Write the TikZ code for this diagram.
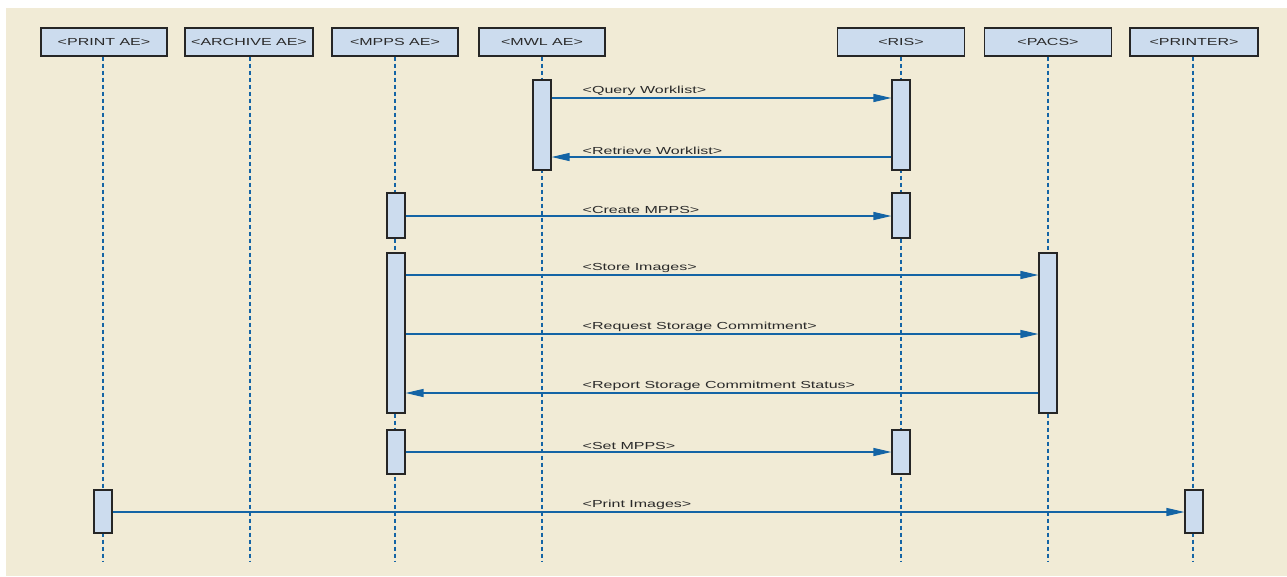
\documentclass[tikz,border=0pt]{standalone}
\usepackage{fontspec}
\setmainfont{Liberation Sans}
\newfontfamily\widesans[FakeStretch=1.57]{Liberation Sans}
\usetikzlibrary{arrows.meta}
\definecolor{bg}{HTML}{F1EBD6}
\definecolor{boxfill}{HTML}{CCDCEE}
\definecolor{lineblue}{HTML}{1464A5}
\definecolor{txt}{HTML}{2A2A2A}
\tikzset{
  hdr/.style={draw=black!85, line width=1.1pt, fill=boxfill, minimum width=127pt, minimum height=28pt, inner sep=0pt, text=txt, font=\widesans\fontsize{10.2}{12}\selectfont},
  bar/.style={draw=black!85, line width=1.1pt, fill=boxfill, minimum width=18pt, inner sep=0pt},
  life/.style={draw=lineblue, line width=1.3pt, dash pattern=on 4pt off 3pt},
  msg/.style={draw=lineblue, line width=1.2pt, -{Triangle[length=18pt,width=8pt]}},
  lbl/.style={anchor=south west, inner sep=0.5pt, text=txt, font=\widesans\fontsize{10.2}{12}\selectfont}
}
\begin{document}
\begin{tikzpicture}[x=1pt,y=-1pt]
\useasboundingbox (0,0) rectangle (1287,576);
\fill[white] (0,0) rectangle (1287,576);
\fill[bg] (6,8) rectangle (1287,576);
% headers
\node[hdr, minimum width=126pt] (print) at (104,42) {<PRINT AE>};
\node[hdr, minimum width=128pt] (archive) at (249,42) {<ARCHIVE AE>};
\node[hdr, minimum width=126pt] (mpps) at (395,42) {<MPPS AE>};
\node[hdr, minimum width=126pt] (mwl) at (542,42) {<MWL AE>};
\node[hdr, minimum width=127pt] (ris) at (901,42) {<RIS>};
\node[hdr, minimum width=127pt] (pacs) at (1048,42) {<PACS>};
\node[hdr, minimum width=128pt] (printer) at (1194,42) {<PRINTER>};
% lifeline ends
\coordinate (eprint) at (103,562);
\coordinate (earchive) at (250,562);
\coordinate (empps) at (395,562);
\coordinate (emwl) at (542,562);
\coordinate (eris) at (901,562);
\coordinate (epacs) at (1048,562);
\coordinate (eprinter) at (1193,562);
\draw[life] (print.south -| eprint) -- (eprint);
\draw[life] (archive.south -| earchive) -- (earchive);
\draw[life] (mpps.south -| empps) -- (empps);
\draw[life] (mwl.south -| emwl) -- (emwl);
\draw[life] (ris.south -| eris) -- (eris);
\draw[life] (pacs.south -| epacs) -- (epacs);
\draw[life] (printer.south -| eprinter) -- (eprinter);
% activation bars
\node[bar, minimum height=90pt] (mwl1) at (542,125) {};
\node[bar, minimum height=90pt] (ris1) at (901,125) {};
\node[bar, minimum height=45pt] (mpps1) at (396,215.5) {};
\node[bar, minimum height=45pt] (ris2) at (901,215.5) {};
\node[bar, minimum height=160pt] (mpps2) at (396,333) {};
\node[bar, minimum height=160pt] (pacs1) at (1048,333) {};
\node[bar, minimum height=44pt] (mpps3) at (396,452) {};
\node[bar, minimum height=44pt] (ris3) at (901,452) {};
\node[bar, minimum height=43pt] (print1) at (103,511.5) {};
\node[bar, minimum height=43pt] (printer1) at (1194,511.5) {};
% messages
\draw[msg] (mwl1.east |- 0,98) -- (ris1.west |- 0,98);
\node[lbl] (l1) at (582,96) {<Query Worklist>};
\draw[msg] (ris1.west |- 0,157) -- (mwl1.east |- 0,157);
\node[lbl] (l2) at (582,155) {<Retrieve Worklist>};
\draw[msg] (mpps1.east |- 0,216) -- (ris2.west |- 0,216);
\node[lbl] (l3) at (582,214) {<Create MPPS>};
\draw[msg] (mpps2.east |- 0,275) -- (pacs1.west |- 0,275);
\node[lbl] (l4) at (582,273) {<Store Images>};
\draw[msg] (mpps2.east |- 0,334) -- (pacs1.west |- 0,334);
\node[lbl] (l5) at (582,332) {<Request Storage Commitment>};
\draw[msg] (pacs1.west |- 0,393) -- (mpps2.east |- 0,393);
\node[lbl] (l6) at (582,391) {<Report Storage Commitment Status>};
\draw[msg] (mpps3.east |- 0,452) -- (ris3.west |- 0,452);
\node[lbl] (l7) at (582,450) {<Set MPPS>};
\draw[msg] (print1.east |- 0,512) -- (printer1.west |- 0,512);
\node[lbl] (l8) at (582,510) {<Print Images>};
\end{tikzpicture}
\end{document}
